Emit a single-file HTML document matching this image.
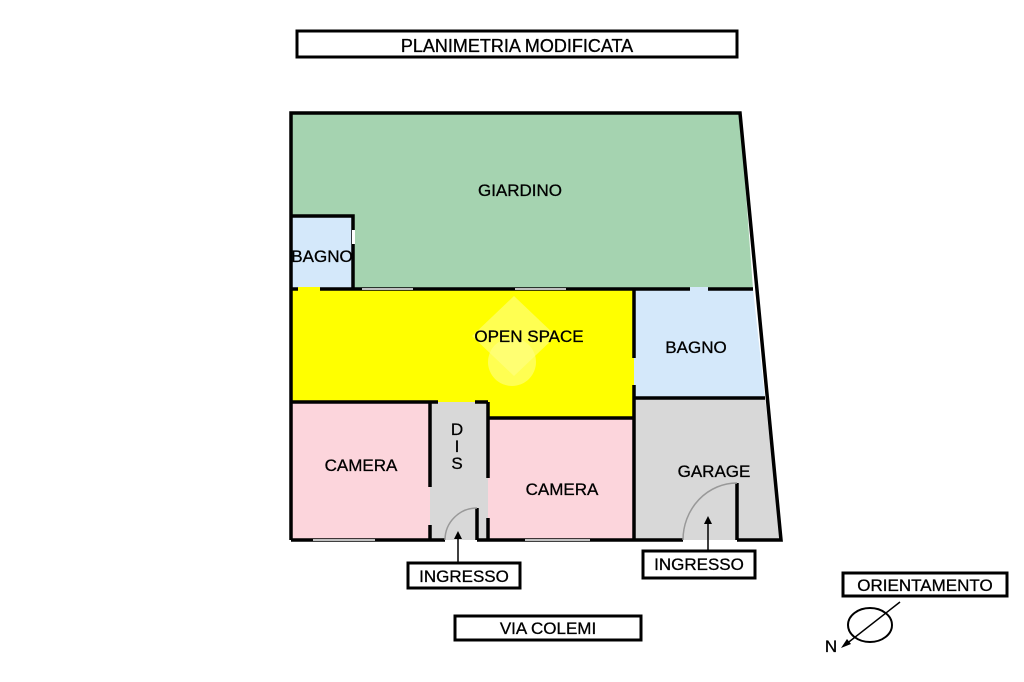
<!DOCTYPE html>
<html><head><meta charset="utf-8"><style>
html,body{margin:0;padding:0;background:#fff;width:1024px;height:682px;overflow:hidden}
svg text{font-family:"Liberation Sans",Arial,sans-serif;fill:#000;stroke:#000;stroke-width:0.3}
</style></head><body>
<svg width="1024" height="682" viewBox="0 0 1024 682" xmlns="http://www.w3.org/2000/svg">
<polygon points="291,113 740,113 753,289 291,289" fill="#a5d3b0"/>
<rect x="291" y="216" width="62" height="73" fill="#d4e8fa"/>
<polygon points="291,289 634,289 634,418 488,418 488,402 291,402" fill="#ffff00"/>
<polygon points="634,289 753,289 765,398 634,398" fill="#d4e8fa"/>
<polygon points="634,398 765,398 781,540 634,540" fill="#d8d8d8"/>
<rect x="291" y="402" width="139" height="138" fill="#fcd5dc"/>
<rect x="430" y="402" width="58" height="138" fill="#d8d8d8"/>
<rect x="488" y="418" width="146" height="122" fill="#fcd5dc"/>
<polygon points="514,296 556,336 514,376 472,336" fill="#ffff88" opacity="0.6"/>
<circle cx="512" cy="362" r="24" fill="#ffff88" opacity="0.6"/>
<g stroke="#000" stroke-width="3.5" fill="none">
<polyline points="291,540 291,113 740,113 781,540 737,540"/>
<line x1="683" y1="540" x2="634" y2="540"/>
<line x1="445" y1="540" x2="291" y2="540"/>
<line x1="634" y1="540" x2="477" y2="540"/>
<polyline points="291,216 353,216 353,289"/>
<line x1="291" y1="289" x2="753" y2="289"/>
<line x1="634" y1="289" x2="634" y2="358"/>
<line x1="634" y1="385" x2="634" y2="540"/>
<line x1="634" y1="398" x2="765" y2="398"/>
<line x1="291" y1="402" x2="438" y2="402"/>
<line x1="475" y1="402" x2="488" y2="402"/>
<line x1="488" y1="402" x2="488" y2="418"/>
<line x1="488" y1="418" x2="634" y2="418"/>
<line x1="430" y1="402" x2="430" y2="487"/>
<line x1="430" y1="525" x2="430" y2="540"/>
<line x1="488" y1="418" x2="488" y2="478"/>
<line x1="488" y1="518" x2="488" y2="540"/>
<line x1="477" y1="508" x2="477" y2="540"/>
<line x1="737" y1="483" x2="737" y2="540"/>
</g>
<g stroke="#fff" stroke-width="1.5">
<line x1="313" y1="540" x2="375" y2="540"/>
<line x1="525" y1="540" x2="590" y2="540"/>
<line x1="362" y1="289" x2="413" y2="289"/>
<line x1="515" y1="289" x2="566" y2="289"/>
</g>
<rect x="298" y="287" width="22" height="4" fill="#ffff00"/>
<rect x="690" y="287" width="18" height="4" fill="#d4e8fa"/>
<rect x="352" y="230" width="3" height="14" fill="#fff"/>
<path d="M445,540 A32,32 0 0 1 477,508" stroke="#999" stroke-width="1.5" fill="none"/>
<path d="M683,540 A54,57 0 0 1 737,483" stroke="#999" stroke-width="1.5" fill="none"/>
<g stroke="#000" stroke-width="1.5">
<line x1="458" y1="563" x2="458" y2="536"/>
<line x1="708" y1="551" x2="708" y2="520"/>
<line x1="900" y1="602" x2="845" y2="645"/>
</g>
<polygon points="458,531 454,539 462,539"/>
<polygon points="708,516 704,524 712,524"/>
<polygon points="841,648 847,639 851,644"/>
<ellipse cx="870" cy="625" rx="22" ry="17" stroke="#000" stroke-width="2" fill="none"/>
<g stroke="#000" stroke-width="3" fill="#fff">
<rect x="297" y="31" width="440" height="26"/>
<rect x="408" y="563" width="112" height="25"/>
<rect x="643" y="551" width="112" height="27"/>
<rect x="455" y="616" width="186" height="24"/>
<rect x="843" y="573" width="164" height="23"/>
</g>
<g font-size="17" text-anchor="middle">
<text x="517" y="52" font-size="18">PLANIMETRIA MODIFICATA</text>
<text x="520" y="196">GIARDINO</text>
<text x="322" y="262">BAGNO</text>
<text x="529" y="342" fill="#333">OPEN SPACE</text>
<text x="696" y="353">BAGNO</text>
<text x="361" y="471">CAMERA</text>
<text x="562" y="495">CAMERA</text>
<text x="714" y="477">GARAGE</text>
<text x="457" y="435">D</text>
<text x="457" y="452">I</text>
<text x="457" y="469">S</text>
<text x="464" y="582">INGRESSO</text>
<text x="699" y="570">INGRESSO</text>
<text x="548" y="634">VIA COLEMI</text>
<text x="925" y="591">ORIENTAMENTO</text>
<text x="831" y="652">N</text>
</g>
</svg>
</body></html>
